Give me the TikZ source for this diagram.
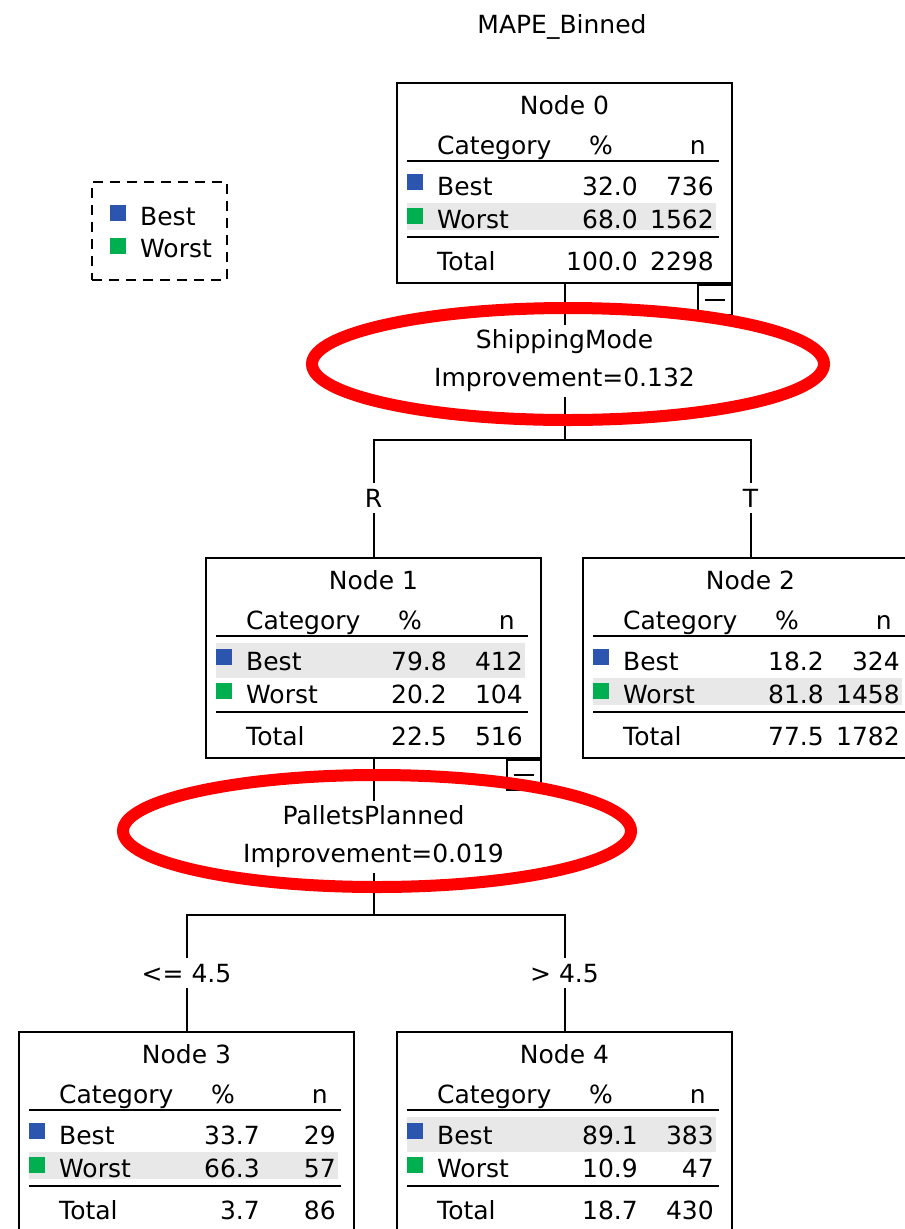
\documentclass[tikz,border=0pt]{standalone}
\usepackage{fontspec}
\setmainfont{DejaVu Sans}
\usetikzlibrary{shapes}

\definecolor{bestblue}{RGB}{43,85,175}
\definecolor{worstgreen}{RGB}{0,176,80}
\definecolor{rowgray}{RGB}{232,232,232}

% one tree node: index, top left x, top left y, then % and n for Best, Worst, Total
\newcommand{\treenode}[9]{%
  \begin{scope}[shift={(#2,#3)}]
    \ifdim #4pt>50pt
      \fill[rowgray] (10,85) rectangle (319,120);
    \else
      \fill[rowgray] (10,120) rectangle (319,147);
    \fi
    \node[box] (n#1) at (167.5,100) {};
    \node[txt, anchor=base] at (167.5,31) {Node #1};
    \node[txt, anchor=base west] at (40,71) {Category};
    \node[txt, anchor=base] at (204,71) {\%};
    \node[txt, anchor=base east] at (309,71) {n};
    \draw[rule] (10,78) -- (322,78);
    \fill[bestblue] (10,91) rectangle (26,107);
    \node[txt, anchor=base west] at (40,112) {Best};
    \node[txt, anchor=base east] at (241,112) {#4};
    \node[txt, anchor=base east] at (317,112) {#5};
    \fill[worstgreen] (10,125) rectangle (26,141);
    \node[txt, anchor=base west] at (40,145) {Worst};
    \node[txt, anchor=base east] at (241,145) {#6};
    \node[txt, anchor=base east] at (317,145) {#7};
    \draw[rule] (10,154) -- (322,154);
    \node[txt, anchor=base west] at (40,187) {Total};
    \node[txt, anchor=base east] at (241,187) {#8};
    \node[txt, anchor=base east] at (317,187) {#9};
  \end{scope}}

\begin{document}
\begin{tikzpicture}[x=1pt, y=-1pt,
    txt/.style={inner sep=0pt, font=\fontsize{25}{38}\selectfont},
    box/.style={draw, line width=2pt, minimum width=335pt, minimum height=200pt, inner sep=0pt},
    rule/.style={line width=2pt},
    link/.style={line width=2pt},
    split/.style={txt, align=center, inner sep=5pt},
    branch/.style={txt, inner sep=6pt, text height=18pt, text depth=0pt},
    toggle/.style={draw, line width=2pt, minimum width=34pt, minimum height=30pt, inner sep=0pt},
    legendbox/.style={draw, line width=2pt, dash pattern=on 10pt off 7pt, minimum width=135pt, minimum height=98pt},
    ring/.style={draw=red, line width=12pt}]

    \useasboundingbox (0,0) rectangle (905,1229);

    \node[txt, anchor=base] (title) at (562,33) {MAPE\_Binned};

    \node[legendbox] (legend) at (159.5,231) {};
    \fill[bestblue] (110,205) rectangle (126,221);
    \node[txt, anchor=base west] at (140,225) {Best};
    \fill[worstgreen] (110,238) rectangle (126,254);
    \node[txt, anchor=base west] at (140,257) {Worst};

    \treenode{0}{397}{83}{32.0}{736}{68.0}{1562}{100.0}{2298}
    \treenode{1}{206}{558}{79.8}{412}{20.2}{104}{22.5}{516}
    \treenode{2}{583}{558}{18.2}{324}{81.8}{1458}{77.5}{1782}
    \treenode{3}{19}{1032}{33.7}{29}{66.3}{57}{3.7}{86}
    \treenode{4}{397}{1032}{89.1}{383}{10.9}{47}{18.7}{430}

    \node[toggle, anchor=north east] (t0) at (n0.south east) {};
    \draw[rule] ([xshift=-10pt]t0.center) -- ([xshift=10pt]t0.center);
    \node[toggle, anchor=north east] (t1) at (n1.south east) {};
    \draw[rule] ([xshift=-10pt]t1.center) -- ([xshift=10pt]t1.center);

    \node[split] (s0) at (564.5,361) {ShippingMode\\Improvement=0.132};
    \node[split] (s1) at (373.5,837) {PalletsPlanned\\Improvement=0.019};

    \coordinate (j0) at (564.5,440);
    \coordinate (j1) at (373.5,915);
    \node[branch] (bR) at (373.5,498) {R};
    \node[branch] (bT) at (750.5,498) {T};
    \node[branch] (b3) at (186.5,973) {<= 4.5};
    \node[branch] (b4) at (564.5,973) {> 4.5};

    \draw[link] (n0) -- (s0);
    \draw[link] (s0) -- (j0);
    \draw[link] (j0) -| (bR);
    \draw[link] (j0) -| (bT);
    \draw[link] (bR) -- (n1);
    \draw[link] (bT) -- (n2);

    \draw[link] (n1) -- (s1);
    \draw[link] (s1) -- (j1);
    \draw[link] (j1) -| (b3);
    \draw[link] (j1) -| (b4);
    \draw[link] (b3) -- (n3);
    \draw[link] (b4) -- (n4);

    \draw[ring] ([xshift=3.5pt,yshift=-3pt]s0.center) ellipse [x radius=256pt, y radius=56pt];
    \draw[ring] ([xshift=3.5pt,yshift=6pt]s1.center) ellipse [x radius=254pt, y radius=56pt];

\end{tikzpicture}
\end{document}
